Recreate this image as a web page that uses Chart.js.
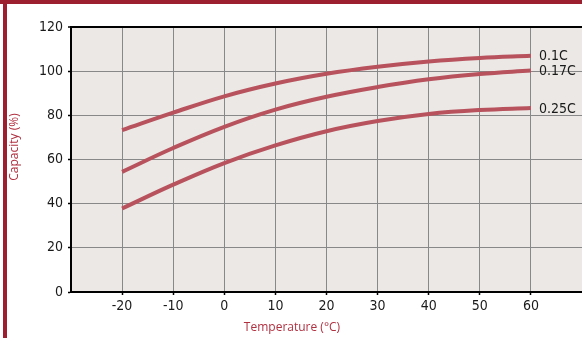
<!DOCTYPE html>
<html>
<head>
<meta charset="utf-8">
<script src="https://cdn.jsdelivr.net/npm/chart.js@4/dist/chart.umd.min.js"></script>
<style>
    html, body { margin: 0; padding: 0; background: #ffffff; }
    #wrap { position: relative; width: 582px; height: 338px; overflow: hidden; }
    #top-bar { position: absolute; left: 0; top: 0; width: 582px; height: 4px; background: #9b1f2e; }
    #left-bar { position: absolute; left: 3px; top: 0; width: 4px; height: 338px; background: #9b1f2e; }
    #chart { position: absolute; left: 0; top: 0; }
</style>
</head>
<body>
<div id="wrap">
    <div id="top-bar"></div>
    <div id="left-bar"></div>
    <canvas id="chart" width="582" height="338"></canvas>
</div>
<script>
// --- Data ---
const temperatures = [-20, -10, 0, 10, 20, 30, 40, 50, 60];
const cap01C = [73.3, 81.2, 88.6, 94.4, 98.8, 102, 104.4, 106, 107];
const cap017C = [54.4, 65.2, 74.8, 82.6, 88.4, 92.8, 96.3, 98.7, 100.3];
const cap025C = [37.8, 48.6, 58.4, 66.4, 72.8, 77.4, 80.6, 82.4, 83.3];
const seriesNames = ['0.1C', '0.17C', '0.25C'];
const xTicks = [-20, -10, 0, 10, 20, 30, 40, 50, 60];
const yTicks = [0, 20, 40, 60, 80, 100, 120];

const lineColor = '#b8525d';
const titleColor = '#b03040';
const tickFont = { family: '"Liberation Sans Narrow", "DejaVu Sans Condensed", sans-serif', size: 14 };

const toPoints = (vals) => vals.map((v, i) => ({ x: temperatures[i], y: v }));

// plot background + axis titles + end-of-line labels
const decorPlugin = {
    id: 'decor',
    beforeDraw(chart) {
        const { ctx, chartArea: a } = chart;
        ctx.save();
        ctx.fillStyle = '#ebe8e5';
        ctx.fillRect(a.left, a.top, a.right - a.left, a.bottom - a.top);
        ctx.restore();
    },
    afterDraw(chart) {
        const { ctx } = chart;
        ctx.save();
        ctx.fillStyle = titleColor;
        ctx.font = '12px "Open Sans", sans-serif';
        ctx.textAlign = 'center';
        ctx.textBaseline = 'middle';
        ctx.fillText('Temperature (°C)', 292, 328);
        ctx.translate(15, 147);
        ctx.rotate(-Math.PI / 2);
        ctx.fillText('Capacity (%)', 0, 0);
        ctx.restore();

        ctx.save();
        ctx.fillStyle = '#1a1a1a';
        ctx.font = '14px "Liberation Sans Narrow", "DejaVu Sans Condensed", sans-serif';
        ctx.textAlign = 'left';
        ctx.textBaseline = 'middle';
        chart.data.datasets.forEach((ds, i) => {
            const meta = chart.getDatasetMeta(i);
            const last = meta.data[meta.data.length - 1];
            ctx.fillText(seriesNames[i], last.x + 8, last.y + 1);
        });
        ctx.restore();
    }
};

document.addEventListener('DOMContentLoaded', () => {
    const ctx = document.getElementById('chart').getContext('2d');
    const mkSet = (name, vals) => ({
        label: name,
        data: toPoints(vals),
        borderColor: lineColor,
        backgroundColor: 'transparent',
        borderWidth: 4,
        pointRadius: 0,
        tension: 0.4,
        clip: false
    });

    new Chart(ctx, {
        type: 'line',
        data: {
            datasets: [
                mkSet(seriesNames[0], cap01C),
                mkSet(seriesNames[1], cap017C),
                mkSet(seriesNames[2], cap025C)
            ]
        },
        options: {
            responsive: false,
            animation: false,
            devicePixelRatio: 1,
            layout: { padding: { top: 27, left: 0, right: 0, bottom: 0 } },
            plugins: { legend: { display: false }, tooltip: { enabled: false } },
            scales: {
                x: {
                    type: 'linear',
                    min: -30,
                    max: 70,
                    afterBuildTicks: (scale) => { scale.ticks = xTicks.map(v => ({ value: v })); },
                    afterFit: (scale) => { scale.height = 46; },
                    ticks: { color: '#1a1a1a', font: tickFont, padding: 3, maxRotation: 0, autoSkip: false },
                    grid: { color: '#888888', lineWidth: 1, tickColor: '#000', tickLength: 3, tickWidth: 1.5 },
                    border: { color: '#000', width: 2 }
                },
                y: {
                    min: 0,
                    max: 120,
                    afterBuildTicks: (scale) => { scale.ticks = yTicks.map(v => ({ value: v })); },
                    afterFit: (scale) => { scale.width = 71; },
                    ticks: { color: '#1a1a1a', font: tickFont, padding: 5 },
                    grid: {
                        color: (c) => c.tick && c.tick.value === 120 ? '#000' : '#888888',
                        lineWidth: (c) => c.tick && c.tick.value === 120 ? 2 : 1,
                        tickColor: '#000',
                        tickLength: 3,
                        tickWidth: 1.5
                    },
                    border: { color: '#000', width: 2 }
                }
            }
        },
        plugins: [decorPlugin]
    });
});
</script>
</body>
</html>
